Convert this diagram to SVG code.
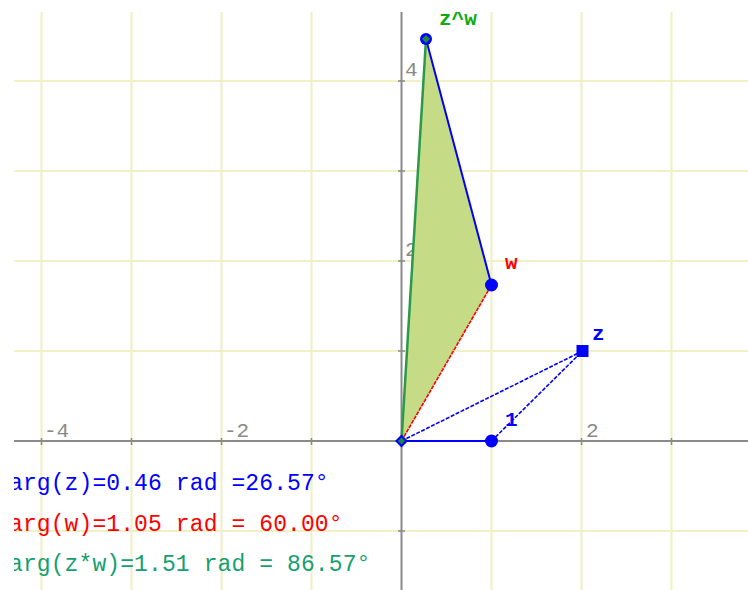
<svg xmlns="http://www.w3.org/2000/svg" width="748" height="590" viewBox="0 0 748 590">
<style>
.grid{stroke:#f0f0c4;stroke-width:2;fill:none}
.axis{stroke:#8a8a8a;stroke-width:2;fill:none}
.tick{stroke:#8a8a8a;stroke-width:1.5}
.alab{font-family:"Liberation Mono","DejaVu Sans Mono",monospace;font-size:21px;fill:#8a8a8a}
.mono{font-family:"Liberation Mono","DejaVu Sans Mono",monospace;font-size:23px;letter-spacing:0.1px}
.plab{font-family:"Liberation Mono","DejaVu Sans Mono",monospace;font-size:21px;font-weight:bold}
</style>
<defs>
<clipPath id="area"><rect x="14" y="12" width="734" height="578"/></clipPath>
</defs>
<rect width="748" height="590" fill="#ffffff"/>
<g clip-path="url(#area)">
<g id="grid" class="grid">
<path d="M41.5 12V590M131.5 12V590M221.5 12V590M311.5 12V590M491.5 12V590M581.5 12V590M671.5 12V590"/>
<path d="M14 81H748M14 171H748M14 261H748M14 351H748M14 531H748"/>
</g>
<g id="axes">
<path class="axis" d="M14 441H748M401.5 12V590"/>
<path class="tick" d="M41.5 438V445M131.5 438V445M221.5 438V445M311.5 438V445M491.5 438V445M581.5 438V445M671.5 438V445"/>
<path class="tick" d="M398 81H405M398 171H405M398 261H405M398 351H405M398 531H405"/>
<text class="alab" x="44" y="437">-4</text>
<text class="alab" x="224" y="437">-2</text>
<text class="alab" x="586" y="437">2</text>
<text class="alab" x="405" y="76">4</text>
<text class="alab" x="405" y="256">2</text>
</g>
<g id="fill">
<polygon points="401.5,441 491.5,285 426,39" fill="#c5db86"/>
</g>
<g id="connectors">
<line x1="401.5" y1="441" x2="491.5" y2="441" stroke="#0000ff" stroke-width="2"/>
<line x1="401.5" y1="441" x2="582.5" y2="351" stroke="#0000ff" stroke-width="1.6" stroke-dasharray="4 1.5"/>
<line x1="491.5" y1="441" x2="582.5" y2="351" stroke="#0000ff" stroke-width="1.6" stroke-dasharray="4 1.5"/>
<line x1="401.5" y1="441" x2="491.5" y2="285" stroke="#ff0000" stroke-width="1.6" stroke-dasharray="4 1"/>
<line x1="491.5" y1="285" x2="426" y2="39" stroke="#0000ff" stroke-width="2"/>
<line x1="401.5" y1="441" x2="426" y2="39" stroke="#2a9a4a" stroke-width="2.5"/>
</g>
<g id="node-origin">
<polygon points="401.5,434.5 408,441 401.5,447.5 395,441" fill="#0000ff"/>
<polygon points="401.5,437.5 405,441 401.5,444.5 398,441" fill="#1a8a3a"/>
</g>
<g id="node-one">
<circle cx="491.5" cy="441" r="6.5" fill="#0000ff"/>
<text class="plab" x="505" y="426" fill="#0000ff">1</text>
</g>
<g id="node-z">
<rect x="576.5" y="345" width="12" height="12" fill="#0000ff"/>
<text class="plab" x="592" y="340" fill="#0000ff">z</text>
</g>
<g id="node-w">
<circle cx="491.5" cy="285" r="6.5" fill="#0000ff"/>
<text class="plab" x="505" y="269" fill="#ff0000">w</text>
</g>
<g id="node-zw">
<circle cx="426" cy="39" r="6" fill="#0000ff"/>
<polygon points="426,35 430,39 426,43 422,39" fill="#1a8a3a"/>
<text class="plab" x="439" y="25" fill="#11aa11">z^w</text>
</g>
<g id="texts">
<text class="mono" x="9" y="490" fill="#0000ff">arg(z)=0.46 rad =26.57°</text>
<text class="mono" x="9" y="531" fill="#ff0000">arg(w)=1.05 rad = 60.00°</text>
<text class="mono" x="9" y="571" fill="#16a070">arg(z*w)=1.51 rad = 86.57°</text>
</g>
</g>
</svg>
